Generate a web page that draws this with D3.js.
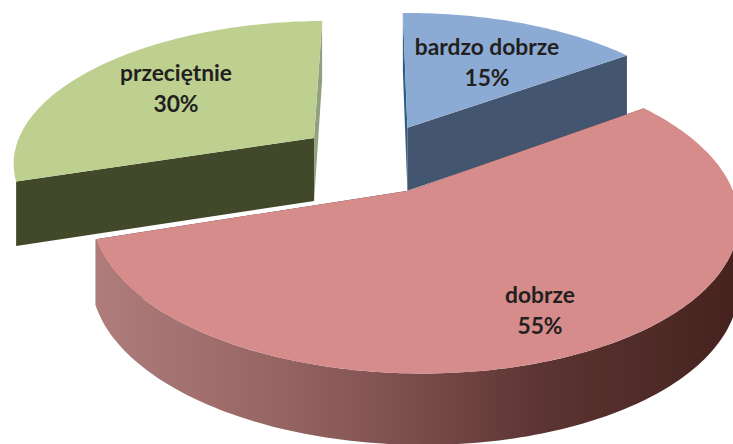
<!DOCTYPE html>
<html><head><meta charset="utf-8">
<script src="https://cdn.jsdelivr.net/npm/d3@7/dist/d3.min.js"></script>
<style>html,body{margin:0;padding:0;background:#fff}svg{display:block}</style>
</head><body><svg id="c" width="733" height="444"></svg>
<script>
const categories = ["bardzo dobrze", "dobrze", "przeciętnie"];
const shares = [15, 55, 30];
const shareLabels = ["15%", "55%", "30%"];

const topColors = ["#8cabd4", "#d58c8b", "#bdd08f"];
const cutColors = ["#44566f", "#4a2a28", "#41492a"];
const innerEdge = ["#2f5f80", "#4a2a28", "#8fa17e"];
const labelAnchors = [[487, 55], [540, 303], [176, 81]];

const W = 733, H = 444, cx = 374, cy = 158, R = 307, E = 76, squash = 0.462, k = 0.16, kx = 0.012, depth = 64;
const svg = d3.select("#c");
const slices = d3.pie().sort(null).value(d => d)(shares);
const line = d3.line().x(d => d[0]).y(d => d[1]);

function project(theta, rad, mid, z) {
  const wx = rad * Math.sin(theta) + E * Math.sin(mid);
  const wy = rad * Math.cos(theta) + E * Math.cos(mid);
  const s = 1 / (1 + k * wy / R - kx * wx / R);
  return [cx + wx * s, cy - squash * wy * s + z * Math.sqrt(s)];
}
function arcPts(a0, a1, mid, z) {
  const n = Math.max(2, Math.ceil(Math.abs(a1 - a0) / 0.02));
  return d3.range(n + 1).map(i => project(a0 + (a1 - a0) * i / n, R, mid, z));
}

const defs = svg.append("defs");
const wallColor = d3.scaleLinear().domain([0, 0.35, 0.7, 1]).range(["#b07d7d", "#8f5f5e", "#5c3433", "#46231f"]);
const grad = defs.append("linearGradient").attr("id", "wall")
  .attr("gradientUnits", "userSpaceOnUse").attr("x1", 95).attr("x2", 733).attr("y1", 0).attr("y2", 0);
d3.range(0, 1.001, 0.1).forEach(t => grad.append("stop").attr("offset", t).attr("stop-color", wallColor(t)));

const order = [2, 0, 1];
order.forEach(i => {
  const d = slices[i], mid = (d.startAngle + d.endAngle) / 2;
  const g = svg.append("g");
  const apexT = project(0, 0, mid, 0), apexB = project(0, 0, mid, depth);
  [d.startAngle, d.endAngle].forEach((a, j) => {
    const oT = project(a, R, mid, 0), oB = project(a, R, mid, depth);
    const color = (i === 0 && j === 0) || (i === 2 && j === 1) ? innerEdge[i] : cutColors[i];
    g.append("path").attr("d", line([apexT, oT, oB, apexB]) + "Z").attr("fill", color);
  });
  if (i === 1) {
    const a0 = Math.PI / 2, a1 = d.endAngle;
    const pts = arcPts(a0, a1, mid, 0).concat(arcPts(a1, a0, mid, depth));
    g.append("path").attr("d", line(pts) + "Z").attr("fill", "url(#wall)");
  }
  const top = [apexT].concat(arcPts(d.startAngle, d.endAngle, mid, 0));
  g.append("path").attr("d", line(top) + "Z").attr("fill", topColors[i]);
});

slices.forEach((d, i) => {
  const [x, y] = labelAnchors[i];
  const t = svg.append("text").attr("text-anchor", "middle")
    .attr("font-family", "Lato, sans-serif").attr("font-weight", 700)
    .attr("font-size", 22.8).attr("fill", "#231f20");
  t.append("tspan").attr("x", x).attr("y", y).text(categories[i]);
  t.append("tspan").attr("x", x).attr("y", y + 31).text(shareLabels[i]);
});
</script></body></html>
